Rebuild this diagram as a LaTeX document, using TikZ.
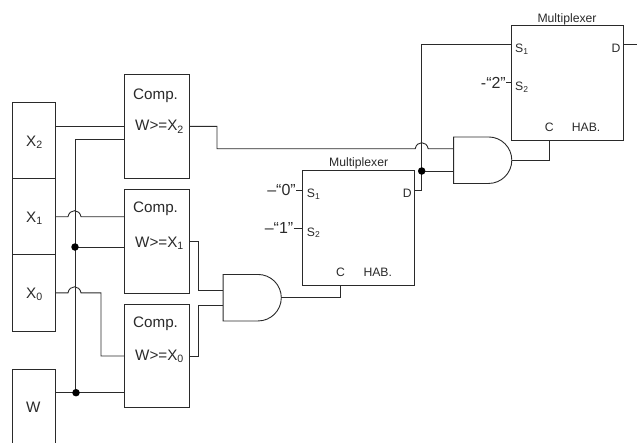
\documentclass[tikz,border=0pt]{standalone}
\usepackage{fontspec}
\setmainfont{Liberation Sans}
\usetikzlibrary{shapes.gates.logic.US}
\definecolor{ink}{HTML}{2A2A2A}
\tikzset{
  x=1pt,y=-1pt,
  wire/.style={draw=ink,line width=0.9pt},
  regbox/.style={draw=ink,line width=0.9pt,minimum width=43pt,minimum height=76.3pt,inner sep=0pt,outer sep=0pt},
  compbox/.style={draw=ink,line width=0.9pt,minimum width=65pt,minimum height=103.6pt,inner sep=0pt,outer sep=0pt},
  muxbox/.style={draw=ink,line width=0.9pt,minimum width=111.8pt,minimum height=115pt,inner sep=0pt,outer sep=0pt},
  andgate/.style={and gate US,draw=ink,line width=0.9pt,logic gate inputs=nn,minimum width=58pt,minimum height=46.5pt,inner sep=0pt,outer sep=0pt},
  big/.style={anchor=base west,inner sep=0pt,text=ink,font=\fontsize{15.2}{15.2}\selectfont},
  small/.style={anchor=base west,inner sep=0pt,text=ink,font=\fontsize{12.2}{12.2}\selectfont},
  quoted/.style={anchor=base east,inner sep=0pt,text=ink,font=\fontsize{16}{16}\selectfont},
  dot/.style={circle,fill=black,inner sep=0pt,minimum size=7.5pt}
}
\begin{document}
\begin{tikzpicture}
\useasboundingbox (0,0) rectangle (637,442);
\clip (0,0) rectangle (637,442);
% registers
\node[regbox] (X2) at (33.5,140.2) {};
\node[regbox] (X1) at (33.5,216.5) {};
\node[regbox] (X0) at (33.5,292.8) {};
\node[regbox] (W) at (33.5,408) {};
\node[big] (lx2) at (26,146) {X\textsubscript{2}};
\node[big] (lx1) at (26,222) {X\textsubscript{1}};
\node[big] (lx0) at (26,298.3) {X\textsubscript{0}};
\node[big] (lw) at (26,412.7) {W};
% comparators
\node[compbox] (C2) at (156.5,126.3) {};
\node[compbox] (C1) at (156.5,241.5) {};
\node[compbox] (C0) at (156.5,356) {};
\node[big] (t2) at (133,99.3) {Comp.};
\node[big] (t1) at (133,212.7) {Comp.};
\node[big] (t0) at (133,327.7) {Comp.};
\node[big] (e2) at (135,130.7) {W>=X\textsubscript{2}};
\node[big] (e1) at (135,247.5) {W>=X\textsubscript{1}};
\node[big] (e0) at (135,360) {W>=X\textsubscript{0}};
% multiplexers
\node[muxbox] (M1) at (358.5,228.2) {};
\node[muxbox] (M2) at (567.3,82.8) {};
\node[small] (mt1) at (329,166.7) {Multiplexer};
\node[small] (ms11) at (306.7,197.3) {S\textsubscript{1}};
\node[small] (ms12) at (306.7,236) {S\textsubscript{2}};
\node[small] (md1) at (402.7,197) {D};
\node[small] (mc1) at (336,276) {C};
\node[small] (mh1) at (363.3,276) {HAB.};
\node[small] (mt2) at (537.3,22) {Multiplexer};
\node[small] (ms21) at (515,52.3) {S\textsubscript{1}};
\node[small] (ms22) at (515,90.3) {S\textsubscript{2}};
\node[small] (md2) at (611.3,52.3) {D};
\node[small] (mc2) at (544.7,131) {C};
\node[small] (mh2) at (571.7,131) {HAB.};
% constants
\node[quoted] (k0) at (296,195.5) {–“0”};
\node[quoted] (k1) at (293.5,233.5) {–“1”};
\node[quoted] (k2) at (506,88.2) {-“2”};
% gates
\node[andgate] (A1) at (250.3,297.7) {};
\node[andgate] (A2) at (480.8,160.2) {};
% junctions
\coordinate (busTop) at (75,139);
\coordinate (busMid) at (75,247);
\coordinate (busEnd) at (75,392.7);
\coordinate (sel) at (421.7,171);
\coordinate (c2in) at (0,148.7);
% wires
\draw[wire] (C2.west -| X2.east) -- (C2.west);
\draw[wire] (busTop -| C2.west) -- (busTop) -- (busEnd);
\draw[wire] (busMid) -- (busMid -| C1.west);
\draw[wire] (busEnd -| W.east) -- (busEnd -| C0.west);
\draw[wire] (X1.east) ++(0,0.2) -- ++(13,0) .. controls +(1.5,-8) and +(-1.5,-8) .. ++(13,0) -- (C1.west |- 0,216.7);
\draw[wire] (X0.east) -- ++(13,0) .. controls +(1.5,-8) and +(-1.5,-8) .. ++(13,0) -- ++(20,0) |- (C0.west);
\draw[wire] (C2.east) -- ++(28,0) |- (415.2,148.7) .. controls +(1.5,-8) and +(-1.5,-8) .. ++(13,0) -- (A2.input 1 |- c2in);
\draw[wire] (C1.east) -- ++(9,0) |- (A1.input 1);
\draw[wire] (C0.east) -- ++(9,0) |- (A1.input 2);
\draw[wire] (A1.output) -| (mc1.north |- M1.south);
\draw[wire] (A2.output) -| (mc2.north |- M2.south);
\draw[wire] (M1.east |- 0,190) -- (421.7,190) -- (sel) -- (421.7,44.7) -- (M2.west |- 0,44.7);
\draw[wire] (sel) -- (A2.input 2 |- sel);
\draw[wire] (M2.east |- 0,44.7) -- (637,44.7);
\draw[wire] (k0.east |- 0,190) -- (M1.west |- 0,190);
\draw[wire] (k1.east |- 0,228) -- (M1.west |- 0,228);
\draw[wire] (k2.east |- 0,82.7) -- (M2.west |- 0,82.7);
\node[dot] (d1) at (busMid) {};
\node[dot] (d2) at (76,392.7) {};
\node[dot] (d3) at (sel) {};
\end{tikzpicture}
\end{document}
